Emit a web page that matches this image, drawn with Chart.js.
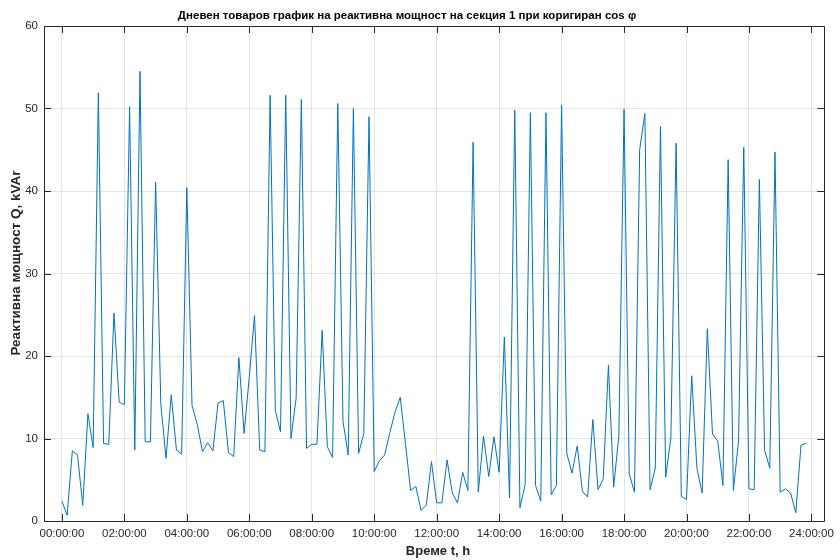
<!DOCTYPE html>
<html>
<head>
<meta charset="utf-8">
<script src="https://cdn.jsdelivr.net/npm/chart.js@4/dist/chart.umd.min.js"></script>
<style>
  body { margin: 0; background: #fff; }
  canvas { display: block; }
</style>
</head>
<body>
<canvas id="graphic" width="840" height="560"></canvas>
<script>
// reactive power, kVAr, one reading every 10 min from 00:00 to 23:50
const stepMinutes = 10;
const reactivePower = [
  2.4, 0.7, 8.5, 8.0, 1.9, 13.0, 8.9, 51.9, 9.4, 9.3, 25.2, 14.4,
  14.1, 50.2, 8.6, 54.5, 9.6, 9.6, 41.1, 14.2, 7.6, 15.3, 8.6, 8.1,
  40.4, 14.0, 11.7, 8.4, 9.5, 8.5, 14.3, 14.6, 8.3, 7.8, 19.8, 10.6,
  17.5, 24.9, 8.6, 8.4, 51.6, 13.4, 10.8, 51.6, 10.0, 14.9, 51.1, 8.8,
  9.3, 9.3, 23.1, 9.0, 7.7, 50.6, 12.1, 8.0, 50.0, 8.2, 10.6, 49.0,
  6.0, 7.3, 8.0, 10.7, 13.2, 15.0, 9.4, 3.7, 4.2, 1.3, 1.9, 7.2,
  2.2, 2.2, 7.4, 3.4, 2.2, 5.9, 3.7, 45.9, 3.5, 10.3, 5.4, 10.2,
  5.9, 22.3, 2.8, 49.8, 1.6, 4.4, 49.5, 4.3, 2.4, 49.5, 3.2, 4.3,
  50.4, 8.2, 5.8, 9.1, 3.6, 2.9, 12.3, 3.8, 5.1, 18.9, 4.1, 10.3,
  49.9, 5.7, 3.5, 45.0, 49.4, 3.8, 6.4, 47.8, 5.3, 10.1, 45.8, 3.0,
  2.6, 17.6, 6.4, 3.4, 23.3, 10.5, 9.7, 4.3, 43.8, 3.7, 9.7, 45.3,
  3.9, 3.8, 41.4, 8.6, 6.4, 44.7, 3.5, 3.9, 3.4, 1.0, 9.2, 9.4
];
const xTickHours = [0, 2, 4, 6, 8, 10, 12, 14, 16, 18, 20, 22, 24];
const yTicks = [0, 10, 20, 30, 40, 50, 60];

const title = 'Дневен товаров график на реактивна мощност на секция 1 при коригиран cos φ';
const xTitle = 'Време t, h';
const yTitle = 'Реактивна мощност Q, kVAr';

const points = reactivePower.map((q, i) => ({ x: i * stepMinutes / 60, y: q }));

const fontFamily = "'Liberation Sans', Arial, Helvetica, sans-serif";
const pad2 = n => String(n).padStart(2, '0');

// matlab style: closed box, inward ticks, texts
const matlabFrame = {
  id: 'matlabFrame',
  afterDraw(chart) {
    const ctx = chart.ctx;
    const a = chart.chartArea;
    const xs = chart.scales.x, ys = chart.scales.y;
    ctx.save();
    ctx.strokeStyle = '#262626';
    ctx.lineWidth = 1;
    ctx.beginPath();
    ctx.rect(Math.round(a.left) + 0.5, Math.round(a.top) + 0.5,
      Math.round(a.right - a.left), Math.round(a.bottom - a.top));
    ctx.stroke();
    ctx.beginPath();
    xTickHours.forEach(h => {
      const px = Math.round(xs.getPixelForValue(h)) + 0.5;
      ctx.moveTo(px, a.bottom); ctx.lineTo(px, a.bottom - 7);
      ctx.moveTo(px, a.top); ctx.lineTo(px, a.top + 7);
    });
    yTicks.forEach(v => {
      const py = Math.round(ys.getPixelForValue(v)) + 0.5;
      ctx.moveTo(a.left, py); ctx.lineTo(a.left + 7, py);
      ctx.moveTo(a.right, py); ctx.lineTo(a.right - 7, py);
    });
    ctx.stroke();

    ctx.fillStyle = '#000';
    ctx.textAlign = 'center';
    ctx.textBaseline = 'middle';
    ctx.font = 'bold 11.5px ' + fontFamily;
    ctx.fillText(title, 407, 16);
    ctx.fillStyle = '#262626';
    ctx.font = 'bold 13px ' + fontFamily;
    ctx.fillText(xTitle, 438, 551);
    ctx.font = 'bold 13.5px ' + fontFamily;
    ctx.translate(16, 263);
    ctx.rotate(-Math.PI / 2);
    ctx.fillText(yTitle, 0, 0);
    ctx.restore();
  }
};

new Chart(document.getElementById('graphic').getContext('2d'), {
  type: 'line',
  data: {
    datasets: [{
      data: points,
      borderColor: '#0072BD',
      borderWidth: 1,
      pointRadius: 0,
      tension: 0,
      fill: false
    }]
  },
  options: {
    responsive: false,
    animation: false,
    layout: { autoPadding: false, padding: { top: 26, right: 12, left: 0, bottom: 0 } },
    plugins: { legend: { display: false }, tooltip: { enabled: false } },
    scales: {
      x: {
        type: 'linear',
        min: -0.574,
        max: 24.41,
        afterBuildTicks: s => { s.ticks = xTickHours.map(v => ({ value: v })); },
        afterFit: s => { s.height = 39; },
        grid: { color: 'rgba(0,0,0,0.1)', drawTicks: false },
        border: { display: false },
        ticks: {
          padding: 6,
          maxRotation: 0,
          autoSkip: false,
          color: '#262626',
          font: { family: fontFamily, size: 11.5 },
          callback: v => pad2(v) + ':00:00'
        }
      },
      y: {
        min: 0,
        max: 60,
        afterBuildTicks: s => { s.ticks = yTicks.map(v => ({ value: v })); },
        afterFit: s => { s.width = 44; },
        grid: { color: 'rgba(0,0,0,0.1)', drawTicks: false },
        border: { display: false },
        ticks: {
          padding: 6,
          color: '#262626',
          font: { family: fontFamily, size: 11.5 }
        }
      }
    }
  },
  plugins: [matlabFrame]
});
</script>
</body>
</html>
